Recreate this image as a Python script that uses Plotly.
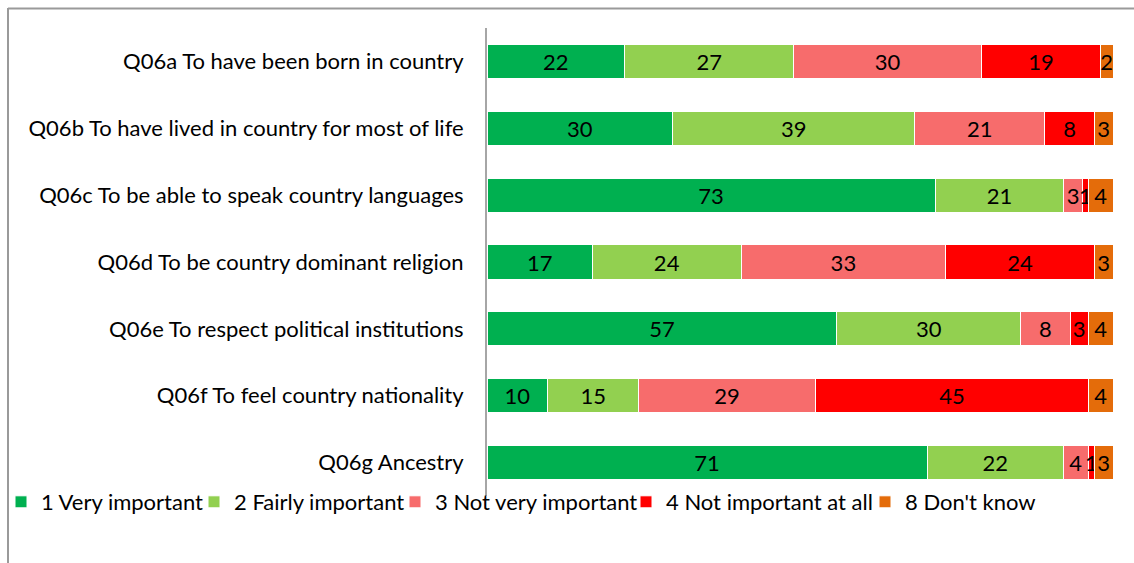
import plotly.graph_objects as go

categories = [
    "Q06a To have been born in country",
    "Q06b To have lived in country for most of life",
    "Q06c To be able to speak country languages",
    "Q06d To be country dominant religion",
    "Q06e To respect political institutions",
    "Q06f To feel country nationality",
    "Q06g Ancestry",
]
series_names = ["1 Very important", "2 Fairly important", "3 Not very important",
                "4 Not important at all", "8 Don't know"]
very_important = [22, 30, 73, 17, 57, 10, 71]
fairly_important = [27, 39, 21, 24, 30, 15, 22]
not_very_important = [30, 21, 3, 33, 8, 29, 4]
not_important_at_all = [19, 8, 1, 24, 3, 45, 1]
dont_know = [2, 3, 4, 3, 4, 4, 3]

colors = ["#00B050", "#92D050", "#F76C6C", "#FF0000", "#E46C0A"]
series_values = [very_important, fairly_important, not_very_important,
                 not_important_at_all, dont_know]

FONT = "Lato, Calibri, Carlito, sans-serif"
FS = 22

W, H = 1134, 563
L, R, T, B = 487, 21, 28, 67
pw, ph = W - L - R, H - T - B

def px_to_paper_x(px):
    return (px - L) / pw

def px_to_paper_y(py):
    return (H - B - py) / ph

# x (px) where each legend entry's label text starts in the reference
legend_text_left = [38, 231, 432, 663, 902]
legend_ids = ["legend", "legend2", "legend3", "legend4", "legend5"]

fig = go.Figure()
for name, vals, col, lid in zip(series_names, series_values, colors, legend_ids):
    fig.add_trace(go.Bar(
        y=categories, x=vals, name=name, orientation="h", legend=lid,
        marker=dict(color=col, line=dict(color="white", width=1)),
        text=vals, texttemplate="%{text}", textposition="inside",
        insidetextanchor="middle", textangle=0,
        textfont=dict(color="black", size=FS, family=FONT),
        hoverinfo="x+y+name",
    ))

legend_layout = {}
for lid, tx in zip(legend_ids, legend_text_left):
    legend_layout[lid] = dict(
        orientation="h", x=px_to_paper_x(tx - 37), y=px_to_paper_y(502),
        xanchor="left", yanchor="middle",
        font=dict(size=FS, family=FONT), itemwidth=30,
        bgcolor="rgba(0,0,0,0)")

fig.update_layout(
    width=W, height=H,
    barmode="stack", barnorm="percent", bargap=0.49,
    margin=dict(l=L, r=R, t=T, b=B, autoexpand=False),
    paper_bgcolor="white", plot_bgcolor="white",
    font=dict(family=FONT, size=FS, color="black"),
    uniformtext=dict(minsize=FS, mode="show"),
    showlegend=True,
    xaxis=dict(range=[0, 100], visible=False, fixedrange=True),
    yaxis=dict(autorange="reversed", showline=True, linecolor="#A6A6A6", linewidth=2,
               ticks="", showgrid=False, ticklabelstandoff=17,
               tickfont=dict(size=FS, family=FONT, color="black")),
    shapes=[
        dict(type="line", xref="paper", yref="paper",
             x0=px_to_paper_x(8), x1=px_to_paper_x(1140),
             y0=px_to_paper_y(8.5), y1=px_to_paper_y(8.5),
             line=dict(color="#9A9A9A", width=2)),
        dict(type="line", xref="paper", yref="paper",
             x0=px_to_paper_x(8), x1=px_to_paper_x(8),
             y0=px_to_paper_y(8), y1=px_to_paper_y(570),
             line=dict(color="#9A9A9A", width=2)),
    ],
    **legend_layout,
)

fig.write_html("out.html")
